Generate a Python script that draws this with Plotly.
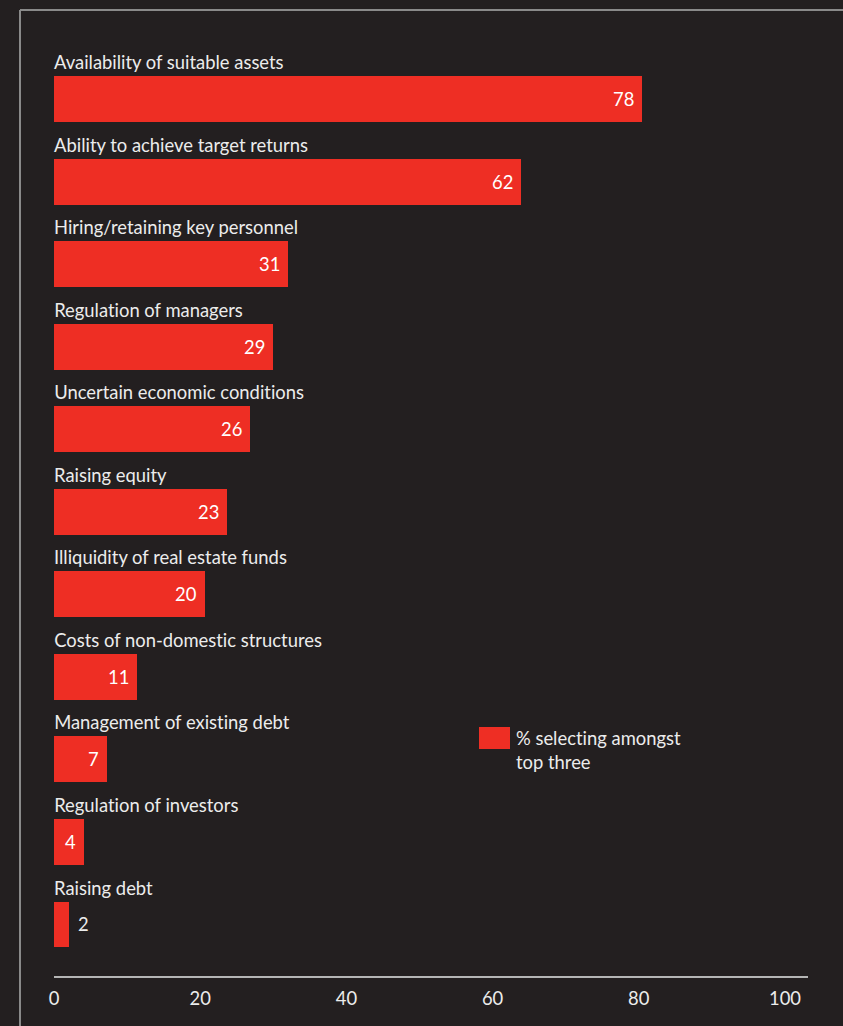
import plotly.graph_objects as go

# Survey results: share of respondents ranking each challenge in their top three
categories = [
    "Availability of suitable assets",
    "Ability to achieve target returns",
    "Hiring/retaining key personnel",
    "Regulation of managers",
    "Uncertain economic conditions",
    "Raising equity",
    "Illiquidity of real estate funds",
    "Costs of non-domestic structures",
    "Management of existing debt",
    "Regulation of investors",
    "Raising debt",
]
values = [78, 62, 31, 29, 26, 23, 20, 11, 7, 4, 2]
tick_values = [0, 20, 40, 60, 80, 100]
tick_labels = ["0", "20", "40", "60", "80", "100"]
series_name = "% selecting amongst<br>top three"

BG = "#231f20"
RED = "#ee2e24"
TEXT = "#ececec"
FRAME = "#8a8a8a"
FONT = "Lato"
FS = 18.4

W, H = 843, 1026
ML, MR, MT, MB = 54, 35, 10, 50

fig = go.Figure()

fig.add_trace(go.Bar(
    x=values,
    y=list(range(len(categories))),
    orientation="h",
    marker=dict(color=RED, line=dict(width=0)),
    width=0.557,
    name=series_name,
    showlegend=False,
    hoverinfo="skip",
))

annotations = []
for i, (cat, v) in enumerate(zip(categories, values)):
    # category label sitting just above each bar
    annotations.append(dict(
        x=0, y=i - 0.557 / 2, xref="x", yref="y",
        text=cat, showarrow=False, xanchor="left", yanchor="bottom",
        yshift=1, xshift=-2,
        font=dict(family=FONT, size=FS, color=TEXT),
    ))
    # value label at the end of the bar (outside when the bar is too short)
    inside = v >= 4
    annotations.append(dict(
        x=v, y=i, xref="x", yref="y",
        text=str(v), showarrow=False,
        xanchor="right" if inside else "left",
        xshift=-6 if inside else 7,
        yanchor="middle",
        font=dict(family=FONT, size=FS, color="#ffffff" if inside else TEXT),
    ))

plot_w = W - ML - MR
plot_h = H - MT - MB


def px_to_paper_x(px):
    return (px - ML) / plot_w


def px_to_paper_y(py):
    return (H - MB - py) / plot_h


# legend text
annotations.append(dict(
    x=px_to_paper_x(514), y=px_to_paper_y(725), xref="paper", yref="paper",
    text=series_name, showarrow=False, xanchor="left", yanchor="top",
    align="left", font=dict(family=FONT, size=FS, color=TEXT),
))

shapes = [
    # legend swatch
    dict(type="rect", xref="paper", yref="paper",
         x0=px_to_paper_x(479), x1=px_to_paper_x(510),
         y0=px_to_paper_y(749), y1=px_to_paper_y(727),
         fillcolor=RED, line=dict(width=0)),
    # outer frame: left and top rules
    dict(type="line", xref="paper", yref="paper",
         x0=px_to_paper_x(20), x1=px_to_paper_x(20),
         y0=px_to_paper_y(H + 5), y1=px_to_paper_y(10),
         line=dict(color=FRAME, width=2)),
    dict(type="line", xref="paper", yref="paper",
         x0=px_to_paper_x(20), x1=px_to_paper_x(W + 5),
         y0=px_to_paper_y(10), y1=px_to_paper_y(10),
         line=dict(color=FRAME, width=2)),
]

fig.update_layout(
    width=W, height=H,
    margin=dict(l=ML, r=MR, t=MT, b=MB, pad=0),
    paper_bgcolor=BG, plot_bgcolor=BG,
    font=dict(family=FONT, size=FS, color=TEXT),
    showlegend=False,
    bargap=0,
    annotations=annotations,
    shapes=shapes,
    xaxis=dict(range=[0, 100], visible=False, fixedrange=True),
    xaxis2=dict(
        range=[0, 103.15], overlaying="x", side="bottom", anchor="y",
        tickvals=tick_values, ticktext=tick_labels,
        showline=True, linecolor="#b5b5b5", linewidth=2,
        showgrid=False, zeroline=False, ticks="",
        tickfont=dict(family=FONT, size=FS, color=TEXT),
        ticklabelstandoff=5,
    ),
    yaxis=dict(range=[10.624, -1.078], visible=False, fixedrange=True),
)

# invisible trace so the tick axis is rendered
fig.add_trace(go.Scatter(x=[0, 100], y=[None, None], xaxis="x2", yaxis="y",
                         mode="markers", showlegend=False, hoverinfo="skip"))

# plain letterforms (no "ti"/"fi" ligatures) for all chart text
no_ligatures = (
    "var s=document.createElement('style');"
    "s.textContent='svg text{font-variant-ligatures:none;"
    "font-feature-settings:\"liga\" 0, \"clig\" 0, \"dlig\" 0;}';"
    "document.head.appendChild(s);"
)

fig.write_html("out.html", post_script=no_ligatures)
